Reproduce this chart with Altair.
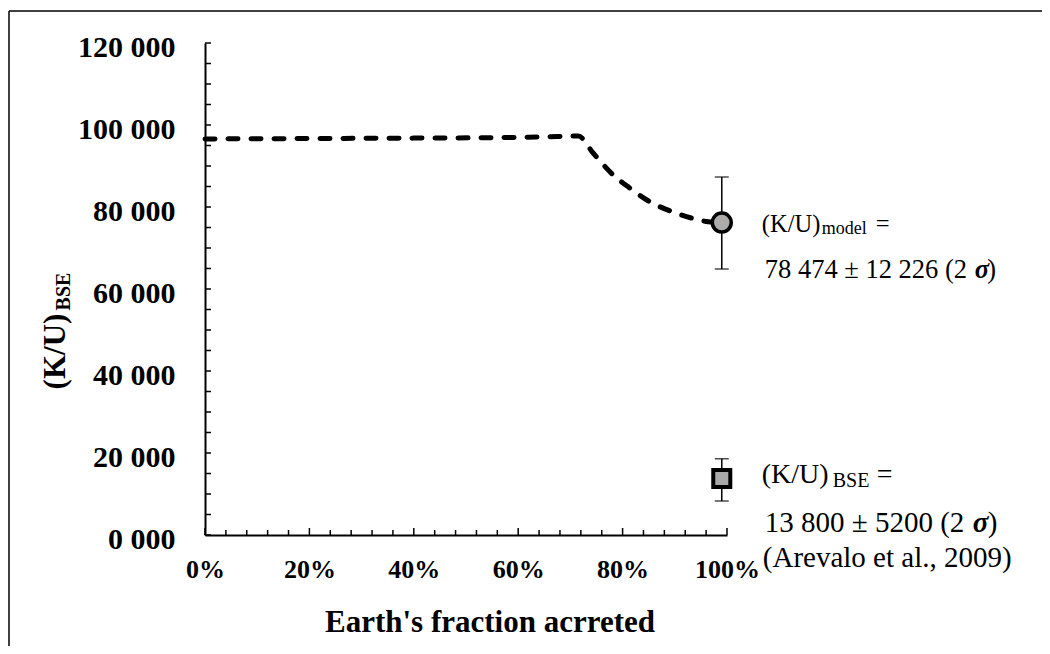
import altair as alt
import pandas as pd

# ---------------- data ----------------
# dashed model curve: Earth's fraction accreted (%) vs (K/U)
line_x = [0, 20, 40, 54, 65, 71.5, 74.4, 78.2, 81.4, 85.2, 89.4, 93.5, 96.4, 99]
line_y = [96600, 96700, 96800, 96900, 97100, 97300, 93100, 87800, 84600, 81300, 78900, 77200, 76400, 76200]

# markers with 2-sigma error bars
mk_x = [99, 99]
mk_y = [76200, 13800]
mk_lo = [64900, 8300]
mk_hi = [87300, 18600]

x_label_vals = [0, 20, 40, 60, 80, 100]
y_label_vals = [0, 20000, 40000, 60000, 80000, 100000, 120000]
x_major_ticks = [0, 20, 40, 60, 80, 100]
x_minor_ticks = [v for v in range(4, 100, 4) if v % 20 != 0]
y_ticks = list(range(0, 120001, 5000))

x_title = "Earth's fraction acrreted"
y_title_main = "(K/U)"
y_title_sub = "BSE"

FONT = "Liberation Serif"
W, H = 522, 492

xs = alt.Scale(domain=[0, 100])
ys = alt.Scale(domain=[0, 120000])

x_axis = alt.Axis(values=x_label_vals, labelExpr="datum.value + '%'", ticks=False, tickSize=0,
                  domain=True, domainColor="black", domainWidth=2, labelFont=FONT,
                  labelFontWeight="bold", labelFontSize=26, labelColor="black", labelPadding=21,
                  title=None, grid=False, labelFlush=False, labelOverlap=False)
y_axis = alt.Axis(values=y_label_vals,
                  labelExpr="datum.value == 0 ? '0 000' : replace(format(datum.value, ','), ',', ' ')",
                  ticks=False, tickSize=0, domain=True, domainColor="black", domainWidth=2,
                  labelFont=FONT, labelFontWeight="bold", labelFontSize=30, labelColor="black",
                  labelPadding=30, labelOffset=4, labelBaseline="middle",
                  title=None, grid=False, labelFlush=False, labelOverlap=False)


def X(field):
    return alt.X(field, scale=xs, axis=x_axis)


def Y(field):
    return alt.Y(field, scale=ys, axis=y_axis)


line_df = pd.DataFrame({"x": line_x, "y": line_y})
line = alt.Chart(line_df).mark_line(color="black", strokeWidth=5, strokeDash=[10, 13],
                                    strokeCap="round", interpolate="monotone").encode(
    x=X("x:Q"), y=Y("y:Q"))

ytick_layer = alt.Chart(pd.DataFrame({"v": y_ticks})).mark_rule(color="black", strokeWidth=1.5).encode(
    y=Y("v:Q"), x=alt.value(0), x2=alt.value(6))
xmaj_layer = alt.Chart(pd.DataFrame({"v": x_major_ticks})).mark_rule(color="black", strokeWidth=1.5).encode(
    x=X("v:Q"), y=alt.value(H), y2=alt.value(H - 7))
xmin_layer = alt.Chart(pd.DataFrame({"v": x_minor_ticks})).mark_rule(color="black", strokeWidth=1.5).encode(
    x=X("v:Q"), y=alt.value(H), y2=alt.value(H - 5))

mk_df = pd.DataFrame({"x": mk_x, "y": mk_y, "lo": mk_lo, "hi": mk_hi})
err = alt.Chart(mk_df).mark_rule(color="black", strokeWidth=1.5).encode(
    x=X("x:Q"), y=Y("lo:Q"), y2="hi:Q")
caps_df = pd.DataFrame({"x": mk_x + mk_x, "y": mk_lo + mk_hi})
caps = alt.Chart(caps_df).mark_tick(color="black", orient="horizontal", size=14, thickness=1.5).encode(
    x=X("x:Q"), y=Y("y:Q"))

circ = alt.Chart(mk_df.iloc[[0]]).mark_circle(fill="#aeabab", stroke="black", strokeWidth=3.5,
                                              size=360, opacity=1).encode(x=X("x:Q"), y=Y("y:Q"))
sq = alt.Chart(mk_df.iloc[[1]]).mark_square(fill="#a9a9a9", stroke="black", strokeWidth=4,
                                            size=290, opacity=1).encode(x=X("x:Q"), y=Y("y:Q"))


def label(i, txt, dx, dy, size, weight="normal", style="normal"):
    df = pd.DataFrame({"x": [mk_x[i]], "y": [mk_y[i]], "t": [txt]})
    return alt.Chart(df).mark_text(align="left", baseline="alphabetic", dx=dx, dy=dy, fontSize=size,
                                   font=FONT, fontWeight=weight, fontStyle=style, color="black").encode(
        x=X("x:Q"), y=Y("y:Q"), text="t:N")


def static(txt, x, y, size, weight="bold", angle=0, align="center"):
    return alt.Chart(pd.DataFrame({"t": [txt]})).mark_text(
        align=align, baseline="alphabetic", fontSize=size, font=FONT, fontWeight=weight,
        angle=angle, color="black").encode(x=alt.value(x), y=alt.value(y), text="t:N")


labels = [
    label(0, "(K/U)", 40, 9, 24.5),
    label(0, "model", 100, 11.5, 18),
    label(0, "=", 154, 9, 24.5),
    label(0, "78 474 ± 12 226 (2", 43, 55, 26.5),
    label(0, "σ", 253, 55, 26.5, "bold", "italic"),
    label(0, ")", 265.5, 55, 26.5),
    label(1, "(K/U)", 40, 5, 28),
    label(1, "BSE", 111, 8.5, 20),
    label(1, "=", 155, 5, 28),
    label(1, "13 800 ± 5200 (2", 43, 53.5, 29),
    label(1, "σ", 251, 53.5, 29, "bold", "italic"),
    label(1, ")", 266, 53.5, 29),
    label(1, "(Arevalo et al., 2009)", 41, 88.5, 29),
]

titles = [
    static(x_title, 285, 589, 31),
    static(y_title_main, -140, 308.5, 31, angle=270),
    static(y_title_sub, -135, 248.5, 20, angle=270),
]

frame_df = pd.DataFrame({"a": [0]})
frame_top = alt.Chart(frame_df).mark_rule(color="black", strokeWidth=1.5).encode(
    x=alt.value(-196), x2=alt.value(1000), y=alt.value(-32))
frame_left = alt.Chart(frame_df).mark_rule(color="black", strokeWidth=1.5).encode(
    x=alt.value(-196), y=alt.value(-32), y2=alt.value(800))

chart = alt.layer(
    line, frame_top, frame_left, ytick_layer, xmaj_layer, xmin_layer, err, caps, circ, sq,
    *labels, *titles
).properties(
    width=W, height=H,
    autosize=alt.AutoSizeParams(type="none"),
    padding={"left": 197, "top": 35, "right": 315, "bottom": 111},
    background="white",
).configure_view(stroke=None)

chart.save("out.html", embed_options={"renderer": "svg", "actions": False})
